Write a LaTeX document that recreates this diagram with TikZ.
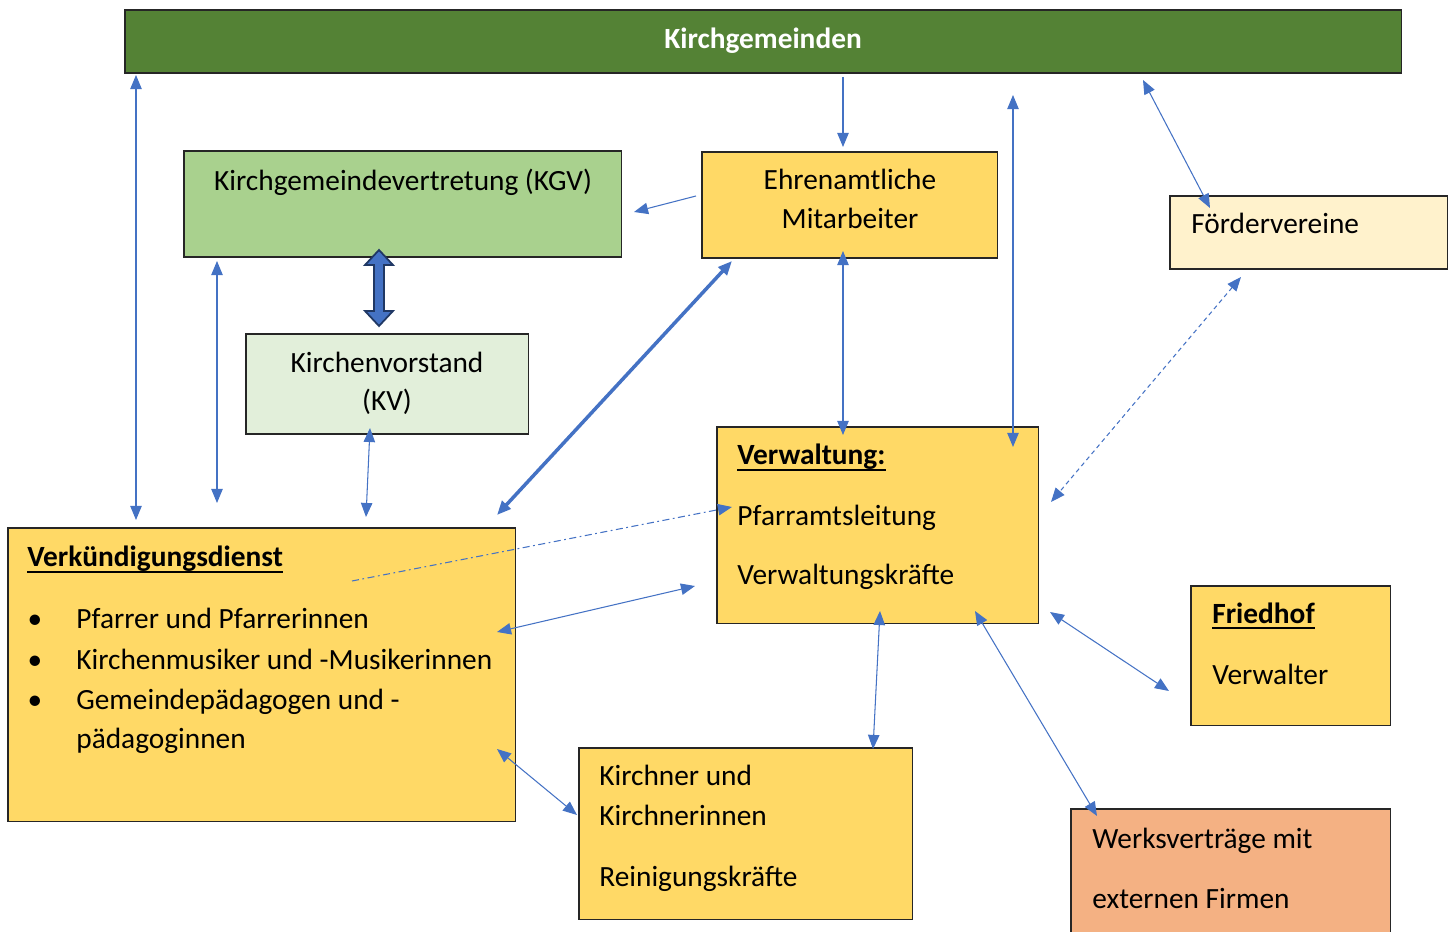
\documentclass[tikz,border=0pt]{standalone}
\usepackage{fontspec}
\setmainfont{Carlito}
\usepackage{tikz}
\usetikzlibrary{arrows.meta}

\definecolor{kggruen}{HTML}{548235}
\definecolor{kgvgruen}{HTML}{A9D18E}
\definecolor{kvgruen}{HTML}{E2EFDA}
\definecolor{gelb}{HTML}{FFD966}
\definecolor{hellgelb}{HTML}{FFF2CC}
\definecolor{orange}{HTML}{F4B183}
\definecolor{pfeilblau}{HTML}{4472C4}
\definecolor{dunkelblau}{HTML}{203864}

\tikzset{
  box/.style={draw=black!85, line width=0.6pt, inner sep=0pt, outer sep=0pt, anchor=north west},
  txt/.style={inner sep=0pt, anchor=base west, font=\fontsize{16.7pt}{19pt}\selectfont},
  ctxt/.style={txt, anchor=base},
  unterstrich/.style={line width=1.1pt},
  pfeil/.style={draw=pfeilblau, line width=0.6pt, {Triangle[length=8pt,width=6.5pt]}-{Triangle[length=8pt,width=6.5pt]}},
  einpfeil/.style={draw=pfeilblau, line width=0.6pt, -{Triangle[length=8pt,width=6.5pt]}}
}

\begin{document}
\begin{tikzpicture}[x=0.02cm, y=-0.02cm]

\useasboundingbox (0,0) rectangle (1455,932);

% Boxes
\node[box, fill=kggruen, minimum width=25.54cm, minimum height=1.26cm] (kg) at (125,10) {};       % Kirchgemeinden
\node[box, fill=kgvgruen, minimum width=8.76cm, minimum height=2.12cm] (kgv) at (184,151) {};     % KGV
\node[box, fill=gelb, minimum width=5.92cm, minimum height=2.12cm] (ehren) at (702,152) {};       % Ehrenamtliche
\node[box, fill=hellgelb, minimum width=5.56cm, minimum height=1.46cm] (foerder) at (1170,196) {}; % Foerdervereine
\node[box, fill=kvgruen, minimum width=5.66cm, minimum height=2.0cm] (kv) at (246,334) {};        % KV
\node[box, fill=gelb, minimum width=6.44cm, minimum height=3.94cm] (verw) at (717,427) {};        % Verwaltung
\node[box, fill=gelb, minimum width=10.16cm, minimum height=5.88cm] (verk) at (8,528) {};         % Verkuendigungsdienst
\node[box, fill=gelb, minimum width=4.0cm, minimum height=2.8cm] (friedhof) at (1191,586) {};     % Friedhof
\node[box, fill=gelb, minimum width=6.68cm, minimum height=3.44cm] (kirchner) at (579,748) {};    % Kirchner
\node[box, fill=orange, minimum width=6.4cm, minimum height=2.5cm] (werk) at (1071,809) {};       % Werksvertraege

% Texts
\node[ctxt, text=white, font=\fontsize{16.7pt}{19pt}\selectfont\bfseries] (kgtxt) at (763,49) {Kirchgemeinden};
\node[ctxt] (kgvtxt) at (403,191) {Kirchgemeindevertretung (KGV)};
\node[ctxt] (ehrentxt1) at (850,190) {Ehrenamtliche};
\node[ctxt] (ehrentxt2) at (850,229) {Mitarbeiter};
\node[txt] (foerdertxt) at (1191,234) {Fördervereine};
\node[ctxt] (kvtxt1) at (387,373) {Kirchenvorstand};
\node[ctxt] (kvtxt2) at (387,411) {(KV)};
\node[txt] (verwtxt1) at (737,465) {\textbf{Verwaltung:}};
\node[txt] (verwtxt2) at (737,526) {Pfarramtsleitung};
\node[txt] (verwtxt3) at (737,585) {Verwaltungskräfte};
\node[txt] (verktxt0) at (27,567) {\textbf{Verkündigungsdienst}};
\node[ctxt] (bullet1) at (35,629) {•};
\node[ctxt] (bullet2) at (35,669) {•};
\node[ctxt] (bullet3) at (35,709) {•};
\node[txt] (verktxt1) at (76,629) {Pfarrer und Pfarrerinnen};
\node[txt] (verktxt2) at (76,669) {Kirchenmusiker und -Musikerinnen};
\node[txt] (verktxt3) at (76,709) {Gemeindepädagogen und -};
\node[txt] (verktxt4) at (76,748) {pädagoginnen};
\node[txt] (friedtxt1) at (1212,623) {\textbf{Friedhof}};
\node[txt] (friedtxt2) at (1212,684) {Verwalter};
\node[txt] (kirchtxt1) at (599,786) {Kirchner und};
\node[txt] (kirchtxt2) at (599,825) {Kirchnerinnen};
\node[txt] (kirchtxt3) at (599,886) {Reinigungskräfte};
\node[txt] (werktxt1) at (1092,848) {Werksverträge mit};
\node[txt] (werktxt2) at (1092,908) {externen Firmen};

% Underlines of the headings
\draw[unterstrich] ([yshift=-2.6pt]verwtxt1.base west) -- ([yshift=-2.6pt]verwtxt1.base east);
\draw[unterstrich] ([yshift=-2.6pt]verktxt0.base west) -- ([yshift=-2.6pt]verktxt0.base east);
\draw[unterstrich] ([yshift=-2.6pt]friedtxt1.base west) -- ([yshift=-2.6pt]friedtxt1.base east);

% Arrow end points
\coordinate (kgA) at (136,75);      \coordinate (verkA) at (136,520);
\coordinate (kgB) at (843,77);      \coordinate (ehrenA) at (843,147);
\coordinate (kgC) at (1013,95);     \coordinate (verwA) at (1013,447);
\coordinate (kgD) at (1143,80);     \coordinate (foerderA) at (1210,208);
\coordinate (ehrenB) at (696,196);  \coordinate (kgvA) at (634,212);
\coordinate (kgvB) at (217,261);    \coordinate (verkB) at (217,503);
\coordinate (kgvC) at (379,250);    \coordinate (kvB) at (379,326);
\coordinate (kvA) at (370,428);     \coordinate (verkC) at (366,517);
\coordinate (ehrenC) at (732,261);  \coordinate (verkD) at (497,515);
\coordinate (ehrenD) at (843,251);  \coordinate (verwB) at (843,435);
\coordinate (foerderB) at (1241,277); \coordinate (verwC) at (1051,502);
\coordinate (verkE) at (352,581);   \coordinate (verwD) at (732,507);
\coordinate (verkF) at (497,632);   \coordinate (verwE) at (695,586);
\coordinate (verkG) at (497,749);   \coordinate (kirchA) at (577,815);
\coordinate (verwF) at (880,611);   \coordinate (kirchB) at (873,749);
\coordinate (verwG) at (975,611);   \coordinate (werkA) at (1097,816);
\coordinate (verwH) at (1050,612);  \coordinate (friedA) at (1169,691);

% Connectors
\draw[pfeil] (kgA) -- (verkA);
\draw[einpfeil] (kgB) -- (ehrenA);
\draw[pfeil] (kgC) -- (verwA);
\draw[pfeil] (kgD) -- (foerderA);
\draw[einpfeil] (ehrenB) -- (kgvA);
\draw[pfeil] (kgvB) -- (verkB);
\draw[pfeil] (kvA) -- (verkC);
\draw[pfeil, line width=2pt] (ehrenC) -- (verkD);
\draw[pfeil] (ehrenD) -- (verwB);
\draw[pfeil, dash pattern=on 2.5pt off 2pt] (foerderB) -- (verwC);
\draw[einpfeil, dash pattern=on 4pt off 2pt on 1pt off 2pt] (verkE) -- (verwD);
\draw[pfeil] (verkF) -- (verwE);
\draw[pfeil] (verkG) -- (kirchA);
\draw[pfeil] (verwF) -- (kirchB);
\draw[pfeil] (verwG) -- (werkA);
\draw[pfeil] (verwH) -- (friedA);

% Block arrow between KGV and KV
\draw[draw=dunkelblau, fill=pfeilblau, line width=1pt, line join=miter]
  (kgvC) -- ++(14,15) -- ++(-9,0) -- ++(0,46) -- ++(9,0) -- (kvB)
  -- ++(-14,-15) -- ++(9,0) -- ++(0,-46) -- ++(-9,0) -- cycle;

\end{tikzpicture}
\end{document}
